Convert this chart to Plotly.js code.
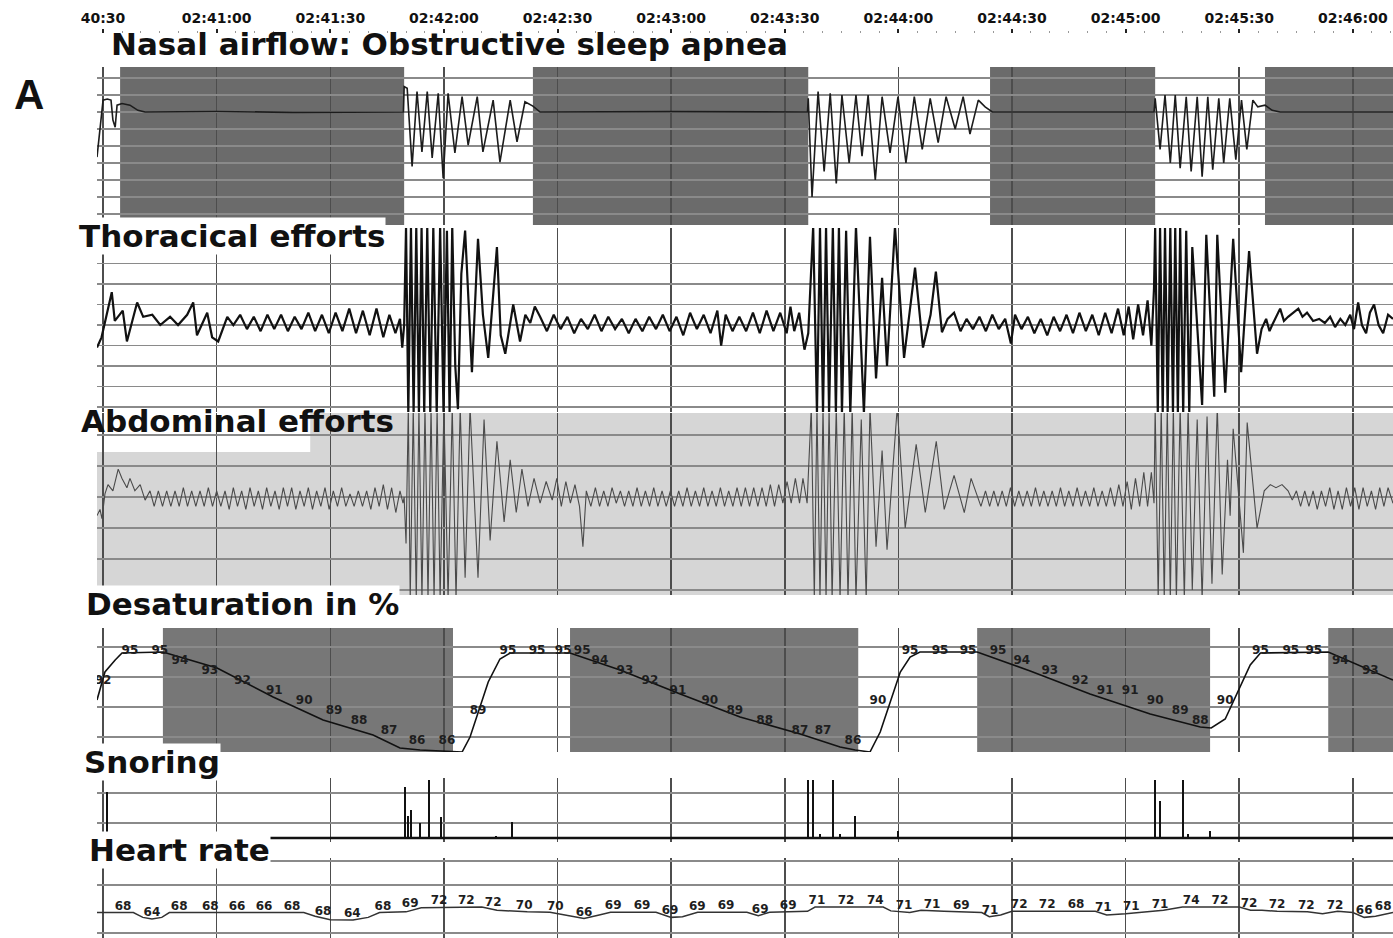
<!DOCTYPE html>
<html>
<head>
<meta charset="utf-8">
<script src="https://cdn.plot.ly/plotly-3.0.1.min.js"></script>
<style>html,body{margin:0;padding:0;background:#fff}#chart{width:1393px;height:938px}</style>
</head>
<body>
<div id="chart"></div>
<script>
// time axis: seconds after 02:40:30
const tickSec = [0, 30, 60, 90, 120, 150, 180, 210, 240, 270, 300, 330];
const tickLab = ['40:30', '02:41:00', '02:41:30', '02:42:00', '02:42:30', '02:43:00', '02:43:30', '02:44:00', '02:44:30', '02:45:00', '02:45:30', '02:46:00'];

// obstructive apnea periods (s)
const apneaStart = [4.5, 113.5, 234.2, 306.8];
const apneaEnd   = [79.5, 186.2, 277.8, 342];

// desaturation periods (s)
const desatStart = [15.8, 123.3, 230.8, 323.5];
const desatEnd   = [92.4, 199.4, 292.3, 342];

// nasal airflow [t, value]
const nasal = [[-1.6,-2.65],[-0.8,-1.06],[0.0,0.7],[1.1,0.76],[2.1,0.7],[2.6,-0.47],[3.2,-0.9],[3.7,0.4],[5.0,0.5],[7.1,0.4],[9.2,0.1],[11.1,0.0],[30,0.03],[50,-0.02],[79.3,0.0],
[79.5,1.5],[80.3,1.4],[81.6,-3.2],[82.9,1.2],[84.2,-2.35],[85.6,1.2],[86.9,-2.7],[88.5,1.1],[89.8,-3.9],[91.1,1.1],[92.9,-2.4],[94.8,0.9],[96.4,-1.95],[98.8,0.9],[100.3,-2.35],[103.0,0.7],[104.8,-2.95],[107.5,0.7],[109.3,-1.75],[111.4,0.6],[113.5,0.35],[115.4,0.0],[150,0.02],[186.0,0.0],
[186.2,0.8],[187.2,-5.0],[188.8,1.2],[190.4,-3.5],[192.0,1.1],[193.6,-4.2],[195.1,1.0],[197.0,-3.0],[198.8,1.0],[200.4,-2.6],[202.0,1.0],[203.9,-4.0],[205.7,0.9],[207.8,-2.4],[209.9,0.9],[212.0,-3.0],[214.2,0.9],[216.3,-2.2],[218.4,0.8],[220.5,-1.8],[222.6,0.9],[225.0,-1.0],[227.1,0.9],[228.9,-1.3],[231.1,0.7],[232.9,0.3],[234.8,0.0],[255,0.02],[277.5,0.0],
[277.8,0.8],[279.1,-2.2],[280.4,1.0],[281.8,-3.0],[283.1,1.0],[284.4,-3.3],[286.0,0.9],[287.3,-3.5],[288.9,0.9],[290.2,-3.8],[291.7,0.9],[293.0,-3.4],[294.6,0.8],[295.9,-3.0],[297.5,0.8],[299.1,-2.8],[300.6,0.7],[302.0,-2.2],[303.6,0.7],[304.9,0.3],[306.8,0.4],[308.7,0.1],[310.8,0.0],[340.6,0.0]];

// thoracic effort [t, value]
const thoracic = [[-1.6,-1.1],[-0.4,-0.6],[2.3,1.6],[3.1,0.2],[5.2,0.7],[6.3,-0.8],[9.0,1.1],[10.6,0.4],[13.0,0.5],[15.1,0.0],[17.7,0.4],[19.8,0.0],[22.2,0.5],[23.8,1.1],[24.8,-0.5],[27.5,0.6],[28.8,-0.6],[30.4,-0.8],[32.8,0.4],[34.4,0.0],[36.2,0.5],[38.0,-0.2],[39.8,0.4],[41.6,-0.3],[43.4,0.5],[45.2,-0.2],[47.0,0.5],[48.8,-0.3],[50.6,0.4],[52.4,-0.2],[54.2,0.6],[56.0,-0.3],[57.8,0.5],[59.6,-0.4],[61.4,0.6],[63.2,-0.3],[65.0,0.8],[66.8,-0.4],[68.6,0.7],[70.4,-0.5],[72.2,0.8],[74.0,-0.6],[75.6,0.5],[77.2,-0.4],[78.4,0.3],[79.0,-1.1],
[79.5,0.0],[80.0,4.8],[80.6,-4.3],[81.3,4.8],[82.0,-4.3],[82.7,4.8],[83.4,-4.3],[84.1,4.8],[84.8,-4.3],[85.6,4.8],[86.4,-4.3],[87.2,4.8],[88.1,-4.3],[89.0,4.8],[89.9,-4.3],[90.8,4.6],[91.5,-4.3],[92.2,4.8],[93.0,-2.0],[93.7,-4.1],[94.6,2.5],[95.6,4.6],[97.4,-2.3],[99.0,4.2],[100.3,0.5],[101.7,-1.6],[104.0,3.8],[105.0,-0.5],[106.2,-1.4],[108.3,1.0],[110.1,-0.8],[111.5,0.5],[112.8,0.1],[114.0,0.9],[115.4,0.4],
[117.2,-0.3],[119.0,0.5],[120.8,-0.2],[122.6,0.4],[124.4,-0.4],[126.2,0.3],[128.0,-0.2],[129.8,0.5],[131.6,-0.3],[133.4,0.4],[135.2,-0.2],[137.0,0.3],[138.8,-0.4],[140.6,0.3],[142.4,-0.3],[144.2,0.4],[146.0,-0.2],[147.8,0.5],[149.6,-0.3],[151.4,0.4],[153.2,-0.5],[155.0,0.6],[156.8,-0.2],[158.6,0.5],[160.4,-0.4],[162.2,0.7],[163.2,-1.0],[164.4,0.5],[166.2,-0.3],[168.0,0.4],[169.8,-0.3],[171.6,0.6],[173.4,-0.4],[175.2,0.7],[177.0,-0.3],[178.8,0.6],[180.5,-0.4],[181.5,0.9],[182.5,-0.3],[183.8,0.6],[185.2,-1.2],
[186.2,-0.4],[187.5,4.8],[188.5,-4.3],[189.3,4.8],[190.1,-4.3],[190.9,4.8],[191.7,-4.3],[192.7,4.8],[193.5,-4.3],[194.3,4.8],[195.1,-4.3],[196.2,4.6],[197.3,-4.3],[198.8,4.8],[200.9,-4.3],[202.5,4.3],[204.1,-2.6],[205.7,2.3],[207.0,-2.0],[209.1,4.8],[211.5,-1.6],[214.4,2.8],[216.5,-1.1],[218.5,0.5],[219.9,2.6],[221.5,-0.35],[223.0,0.3],[224.7,0.6],
[226.4,-0.3],[228.0,0.3],[229.7,-0.2],[231.4,0.4],[233.1,-0.3],[234.8,0.5],[236.5,-0.2],[238.2,0.3],[239.7,-0.9],[240.8,0.5],[242.5,-0.2],[244.2,0.4],[245.9,-0.4],[247.6,0.3],[249.3,-0.5],[251.0,0.4],[252.7,-0.3],[254.4,0.5],[256.1,-0.4],[257.8,0.6],[259.5,-0.3],[261.2,0.5],[262.9,-0.5],[264.6,0.6],[266.3,-0.4],[268.0,0.8],[269.5,-0.5],[270.8,0.9],[272.0,-0.7],[273.3,1.0],[274.6,-0.5],[275.8,1.2],[276.8,-1.0],[277.5,1.8],
[277.8,4.8],[278.5,-4.3],[279.1,4.8],[279.8,-4.3],[280.4,4.8],[281.1,-4.3],[281.8,4.8],[282.5,-4.3],[283.1,4.8],[283.8,-4.3],[284.4,4.8],[285.2,-4.3],[286.0,4.6],[286.8,-4.3],[287.6,3.8],[290.2,-3.9],[291.3,4.4],[293.4,-3.5],[294.2,4.4],[296.3,-3.3],[298.4,4.2],[300.5,-2.3],[302.6,3.6],[304.7,-1.4],[305.9,-0.2],[307.1,0.3],[308.0,-0.3],[308.7,0.0],[310.8,0.8],[311.8,0.2],[312.9,0.4],[315.6,0.8],[316.7,0.4],[317.9,0.6],[319.5,0.2],[321.1,0.3],[322.6,0.1],[324.0,0.4],[325.3,-0.1],[326.7,0.3],[328.0,0.0],[329.3,0.5],[330.3,-0.2],[331.4,1.1],[332.4,0.0],[333.5,-0.4],[334.5,0.6],[335.6,1.0],[336.8,0.0],[338.0,-0.4],[339.3,0.5],[340.6,0.3]];

// abdominal effort [t, value]
const abdominal = [[-1.6,-0.6],[-0.8,-0.4],[-0.3,-0.7],[0.5,0.1],[1.3,0.4],[2.6,0.2],[4.0,0.9],[5.0,0.6],[6.3,0.3],[7.1,0.6],[8.4,0.2],[9.8,0.4],[11.1,-0.1],[12.4,0.2],
[13.5,-0.3],[14.6,0.2],[15.7,-0.3],[16.8,0.2],[17.9,-0.3],[19.0,0.2],[20.1,-0.3],[21.2,0.3],[22.3,-0.3],[23.4,0.2],[24.5,-0.3],[25.6,0.2],[26.7,-0.3],[27.8,0.3],[28.9,-0.3],[30.0,0.2],[31.1,-0.3],[32.2,0.2],[33.3,-0.4],[34.4,0.3],[35.5,-0.3],[36.6,0.2],[37.7,-0.4],[38.8,0.3],[39.9,-0.3],[41.0,0.2],[42.1,-0.4],[43.2,0.3],[44.3,-0.3],[45.4,0.2],[46.5,-0.4],[47.6,0.3],[48.7,-0.3],[49.8,0.3],[50.9,-0.4],[52.0,0.2],[53.1,-0.3],[54.2,0.3],[55.3,-0.4],[56.4,0.2],[57.5,-0.3],[58.6,0.3],[59.7,-0.4],[60.8,0.2],[61.9,-0.3],[63.0,0.3],[64.1,-0.3],[65.2,0.1],[66.3,-0.3],[67.4,0.2],[68.5,-0.3],[69.6,0.2],[70.7,-0.4],[71.8,0.3],[72.9,-0.3],[74.0,0.4],[75.1,-0.4],[76.2,0.3],[77.3,-0.5],[78.4,0.2],[79.2,-0.2],
[79.5,0.0],[80.0,-1.5],[80.6,2.9],[81.1,-3.3],[81.9,2.9],[82.7,-3.3],[83.4,2.9],[84.2,-3.3],[85.0,2.9],[85.8,-3.3],[86.6,2.9],[87.4,-3.3],[88.2,2.9],[89.0,-3.3],[90.0,2.9],[91.1,-3.3],[92.2,2.9],[93.2,-3.3],[94.3,2.9],[95.6,-2.6],[96.9,2.9],[99.0,-2.6],[100.6,2.5],[102.2,-1.4],[104.0,1.8],[105.9,-0.8],[107.5,1.2],[109.1,-0.5],[110.6,0.9],[112.2,-0.3],[113.8,0.6],[115.4,-0.2],[117.0,0.5],[118.6,-0.1],
[119.8,0.6],[121.0,-0.3],[122.2,0.5],[123.4,-0.2],[124.6,0.4],[125.8,-0.3],[126.7,-1.6],[127.6,0.2],[128.8,-0.3],[130.0,0.3],[131.1,-0.3],[132.2,0.2],[133.3,-0.3],[134.4,0.3],[135.5,-0.2],[136.6,0.2],[137.7,-0.3],[138.8,0.2],[139.9,-0.3],[141.0,0.3],[142.1,-0.3],[143.2,0.2],[144.3,-0.3],[145.4,0.3],[146.5,-0.3],[147.6,0.2],[148.7,-0.3],[149.8,0.2],[150.9,-0.3],[152.0,0.2],[153.1,-0.3],[154.2,0.3],[155.3,-0.3],[156.4,0.2],[157.5,-0.3],[158.6,0.3],[159.7,-0.3],[160.8,0.2],[161.9,-0.3],[163.0,0.3],[164.1,-0.3],[165.2,0.2],[166.3,-0.3],[167.4,0.3],[168.5,-0.3],[169.6,0.3],[170.7,-0.3],[171.8,0.3],[172.9,-0.3],[174.0,0.3],[175.1,-0.3],[176.2,0.4],[177.3,-0.3],[178.4,0.4],[179.5,-0.2],[180.6,0.5],[181.7,-0.2],[182.8,0.6],[183.9,-0.2],[184.8,0.6],[185.9,-0.2],
[187.0,2.9],[187.8,-3.3],[188.5,2.9],[189.3,-3.3],[190.1,2.9],[190.9,-3.3],[191.7,2.9],[192.5,-3.3],[193.6,2.9],[194.6,-3.3],[195.7,2.9],[196.7,-3.3],[197.8,2.9],[198.8,-3.3],[200.2,2.5],[201.5,-3.3],[202.5,2.9],[204.1,-1.6],[205.7,1.5],[207.0,-1.7],[209.7,2.9],[211.8,-1.0],[214.7,1.7],[217.1,-0.5],[220.0,1.8],[222.1,-0.4],[224.7,0.7],[227.4,-0.5],[229.2,0.6],[231.8,-0.3],
[233.0,0.2],[234.1,-0.3],[235.2,0.2],[236.3,-0.3],[237.4,0.2],[238.5,-0.3],[239.6,0.3],[240.7,-0.3],[241.8,0.2],[242.9,-0.3],[244.0,0.2],[245.1,-0.3],[246.2,0.3],[247.3,-0.3],[248.4,0.2],[249.5,-0.3],[250.6,0.2],[251.7,-0.3],[252.8,0.3],[253.9,-0.3],[255.0,0.2],[256.1,-0.3],[257.2,0.3],[258.3,-0.3],[259.4,0.2],[260.5,-0.3],[261.6,0.3],[262.7,-0.3],[263.8,0.2],[264.9,-0.3],[266.0,0.3],[267.1,-0.3],[268.2,0.4],[269.3,-0.3],[270.4,0.5],[271.5,-0.4],[272.6,0.6],[273.7,-0.3],[274.8,0.8],[275.8,-0.3],[276.8,0.8],[277.5,-0.2],
[277.8,2.9],[278.6,-3.3],[279.4,2.9],[280.2,-3.3],[281.0,2.9],[281.8,-3.3],[282.6,2.9],[283.4,-3.3],[284.4,2.9],[285.5,-3.3],[286.5,2.9],[287.6,-3.0],[288.9,2.5],[290.2,-3.3],[291.5,2.6],[292.8,-2.8],[294.2,2.9],[295.5,-2.5],[296.9,1.2],[297.6,-0.6],[298.4,2.2],[301.1,-1.8],[302.1,2.4],[304.7,-1.0],[306.6,0.2],[308.2,0.4],[309.7,0.3],[311.3,0.4],[312.9,0.2],
[314.0,-0.1],[315.1,0.2],[316.2,-0.3],[317.3,0.2],[318.4,-0.3],[319.5,0.2],[320.6,-0.4],[321.7,0.2],[322.8,-0.3],[323.9,0.3],[325.0,-0.4],[326.1,0.2],[327.2,-0.4],[328.3,0.3],[329.4,-0.3],[330.5,0.3],[331.6,-0.4],[332.7,0.3],[333.8,-0.3],[334.9,0.2],[336.0,-0.4],[337.1,0.3],[338.2,-0.3],[339.3,0.3],[340.6,-0.2]];

// oxygen saturation (%) [t, value]
const spo2 = [[-1.6,90.7],[0.5,93.5],[3.2,94.7],[5.0,95.4],[15.8,95.5],[30.1,93.9],[44.9,91.0],[58.1,88.7],[71.3,87.2],[78.4,85.9],[83.7,85.7],[90.3,85.6],[92.4,85.5],[94.8,85.5],[96.9,87.0],[99.0,89.5],[101.7,92.5],[104.8,94.8],[107.5,95.4],[123.3,95.4],[136.5,93.7],[152.4,91.3],[168.2,89.0],[184.1,87.3],[194.6,86.0],[198.6,85.7],[202.5,85.5],[205.2,87.5],[207.8,90.5],[210.5,93.5],[213.1,95.0],[215.7,95.5],[230.8,95.5],[244.8,93.6],[260.6,91.3],[276.5,89.3],[289.7,88.0],[292.6,87.9],[296.3,88.8],[299.7,91.5],[302.9,94.2],[305.6,95.4],[323.5,95.5],[340.6,92.7]];
const spo2LabelT = [0.0,7.1,15.0,20.3,28.2,36.8,45.2,53.1,61.0,67.6,75.5,82.9,90.8,99.0,106.9,114.6,121.5,126.5,131.2,137.8,144.4,151.8,160.2,166.8,174.7,184.0,190.1,198.0,204.6,213.1,221.0,228.4,236.3,242.6,250.0,258.0,264.6,271.2,277.8,284.4,289.7,296.3,305.6,313.6,319.7,326.7,334.6];
const spo2LabelV = [92,95,95,94,93,92,91,90,89,88,87,86,86,89,95,95,95,95,94,93,92,91,90,89,88,87,87,86,90,95,95,95,95,94,93,92,91,91,90,89,88,90,95,95,95,94,93];

// snoring events
const snoreT = [1.1,79.7,80.5,81.3,83.7,86.1,89.3,103.8,108.0,186.2,187.5,189.3,192.7,194.6,198.6,209.9,277.8,279.1,285.2,286.5,292.3];
const snoreV = [3.1,3.4,1.5,1.9,1.0,3.9,1.4,0.15,1.1,3.9,3.9,0.3,3.9,0.3,1.5,0.5,3.9,2.5,3.9,0.3,0.5];
const snoreBaseT = [44.0, 340.6];
const snoreBaseV = [0, 0];

// heart rate [t, bpm]
const heart = [[-1.6,68.5],[8,68.5],[10.5,66.5],[12.9,65.8],[15.5,66.5],[17.5,68.5],[40,68.5],[53,68.5],[56,67.0],[60,65.5],[66,65.4],[70,66.5],[73,68.5],[80,68.8],[84,70.5],[100,70.8],[104,69.5],[112,68.8],[118,68.6],[122,67.5],[127,66.0],[131,67.5],[134,68.6],[146,68.6],[150,66.5],[153,66.8],[157,68.6],[170,68.6],[173,67.2],[176,68.6],[186,69],[188,70.8],[206,70.8],[208,69.2],[213,68.5],[216,69.5],[222,69.0],[232,68.5],[234,66.8],[237,67.5],[240,69],[262,69],[265,67.5],[270,68],[276,69],[280,69.5],[285,70.8],[300,70.8],[303,69.5],[306,69.5],[310,69],[318,68.8],[322,68],[326,69],[330,68.5],[333,66.5],[336,67],[340.6,68.5]];
const hrLabelT = [5.3,12.9,20.1,28.3,35.4,42.5,49.9,58.1,65.8,73.9,81.1,88.7,95.9,103.0,111.2,119.4,127.0,134.7,142.3,149.7,156.9,164.5,173.5,180.9,188.5,196.2,203.9,211.5,218.9,226.6,234.2,241.9,249.3,256.9,264.1,271.5,279.1,287.3,294.9,302.6,310.0,317.7,325.3,333.0,338.0];
const hrLabelY = [68.5,65.8,68.5,68.5,68.5,68.5,68.5,66.2,65.4,68.5,69.5,70.8,70.8,69.8,68.8,68.3,66.0,68.6,68.6,66.8,68.4,68.6,67.2,68.8,70.8,70.8,70.8,68.8,69.3,68.8,66.8,69.0,69.0,69.0,67.8,68.3,69.3,70.8,70.8,69.7,69.0,68.8,68.8,66.5,68.2];
const hrLabelText = [68,64,68,68,66,66,68,68,64,68,69,72,72,72,70,70,66,69,69,69,69,69,69,69,71,72,74,71,71,69,71,72,72,68,71,71,71,74,72,72,72,72,72,66,68];

const panelTitles = ['Nasal airflow: Obstructive sleep apnea', 'Thoracical efforts', 'Abdominal efforts', 'Desaturation in %', 'Snoring', 'Heart rate'];

// ---------- build ----------
const X = a => a.map(p => p[0]);
const Y = a => a.map(p => p[1]);
const labFont = {family: 'DejaVu Sans', size: 12, color: '#1e1e1e', weight: 'bold'};

const traces = [
  {x: X(nasal), y: Y(nasal), yaxis: 'y', mode: 'lines', line: {color: '#1c1c1c', width: 1.6}},
  {x: X(thoracic), y: Y(thoracic), yaxis: 'y2', mode: 'lines', line: {color: '#111', width: 2.2}},
  {x: X(abdominal), y: Y(abdominal), yaxis: 'y3', mode: 'lines', line: {color: '#4a4a4a', width: 1.1}},
  {x: X(spo2), y: Y(spo2), yaxis: 'y4', mode: 'lines', line: {color: '#111', width: 1.6}},
  {x: spo2LabelT, y: spo2LabelV, yaxis: 'y4', mode: 'text', text: spo2LabelV.map(String), textposition: 'top center', textfont: labFont},
  {x: snoreBaseT, y: snoreBaseV, yaxis: 'y5', mode: 'lines', line: {color: '#111', width: 2.6}},
  {x: snoreT, y: snoreV, yaxis: 'y5', type: 'bar', width: 0.6, marker: {color: '#111', line: {width: 0}}},
  {x: X(heart), y: Y(heart), yaxis: 'y6', mode: 'lines', line: {color: '#333', width: 1.5}},
  {x: hrLabelT, y: hrLabelY, yaxis: 'y6', mode: 'text', text: hrLabelText.map(String), textposition: 'top center', textfont: labFont}
];

const alias = {};
tickSec.forEach((s, i) => { alias[String(s)] = tickLab[i]; });

const H = 938, TOP = 33, PH = H - TOP;
const fy = py => (H - py) / PH;
const fx = px => (px - 97) / 1296;

function yax(top, bottom, range, vals) {
  return {domain: [fy(bottom), fy(top)], range: range, anchor: 'x', tickmode: 'array', tickvals: vals,
    showticklabels: false, ticks: '', showgrid: true, gridcolor: '#8a8a8a', gridwidth: 1.5,
    zeroline: false, showline: false, fixedrange: true};
}

const shapes = [];
apneaStart.forEach((s, i) => shapes.push({type: 'rect', xref: 'x', yref: 'y domain', x0: s, x1: apneaEnd[i], y0: 0, y1: 1, fillcolor: '#6b6b6b', line: {width: 0}, layer: 'below'}));
shapes.push({type: 'rect', xref: 'x domain', yref: 'y3 domain', x0: 0, x1: 1, y0: 0, y1: 1, fillcolor: '#d6d6d6', line: {width: 0}, layer: 'below'});
shapes.push({type: 'rect', xref: 'x', yref: 'y3', x0: -1.6, x1: 54.7, y0: 1.45, y1: 3.0, fillcolor: '#ffffff', line: {width: 0}, layer: 'below'});
desatStart.forEach((s, i) => shapes.push({type: 'rect', xref: 'x', yref: 'y4 domain', x0: s, x1: desatEnd[i], y0: 0, y1: 1, fillcolor: '#777777', line: {width: 0}, layer: 'below'}));

const titleFont = {family: 'DejaVu Sans', size: 31, color: '#111', weight: 'bold'};
const titlePos = [[110, 44, false], [78, 236, true], [80, 421, false], [85, 604, true], [83, 762, true], [88, 850, true]];
const annotations = titlePos.map((p, i) => ({
  text: panelTitles[i], xref: 'paper', yref: 'paper', x: fx(p[0]), y: fy(p[1]), xanchor: 'left', yanchor: 'middle',
  showarrow: false, font: titleFont, bgcolor: p[2] ? '#ffffff' : 'rgba(0,0,0,0)', borderpad: 0
}));
annotations.push({text: 'A', xref: 'paper', yref: 'paper', x: fx(12), y: fy(95), xanchor: 'left', yanchor: 'middle',
  showarrow: false, font: {family: 'Liberation Sans, Arial', size: 42, color: '#111', weight: 'bold'}});

const layout = {
  width: 1393, height: 938,
  margin: {l: 97, r: 0, t: TOP, b: 0},
  paper_bgcolor: '#ffffff', plot_bgcolor: '#ffffff',
  showlegend: false, hovermode: false, bargap: 0,
  xaxis: {range: [-1.6, 340.6], anchor: 'free', position: 1, side: 'top', tickmode: 'linear', tick0: 0, dtick: 30,
    labelalias: alias, ticks: 'outside', ticklen: 4, tickwidth: 2, tickcolor: '#222',
    tickfont: {family: 'DejaVu Sans', size: 14, color: '#111', weight: 'bold'},
    minor: {dtick: 5, ticks: 'outside', ticklen: 2, tickwidth: 1, tickcolor: '#999', showgrid: false},
    showgrid: true, gridcolor: '#4d4d4d', gridwidth: 1.5, zeroline: false, showline: false, fixedrange: true},
  yaxis:  yax(67, 225, [-6.647, 2.647], [-6, -5, -4, -3, -2, -1, 0, 1, 2]),
  yaxis2: yax(228, 412, [-4.24, 4.73], [-4, -3, -2, -1, 0, 1, 2, 3]),
  yaxis3: yax(413, 595, [-3.16, 2.71], [-3, -2, -1, 0, 1, 2]),
  yaxis4: yax(628, 752, [85.5, 97.9], [87, 90, 93, 96]),
  yaxis5: yax(778, 842, [-0.267, 4.0], [1, 3]),
  yaxis6: yax(858, 938, [57.9, 91.25], [60, 80, 90]),
  shapes: shapes,
  annotations: annotations
};

Plotly.newPlot('chart', traces, layout, {displayModeBar: false, staticPlot: true});
</script>
</body>
</html>
